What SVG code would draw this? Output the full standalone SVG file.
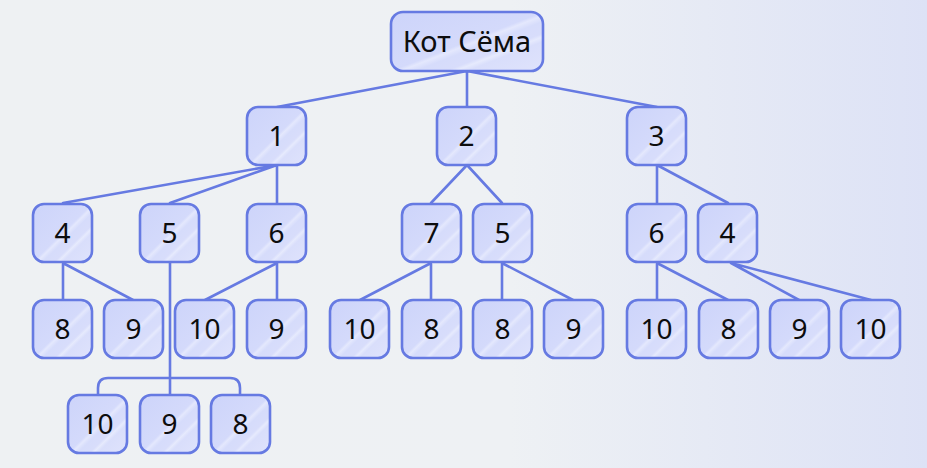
<svg xmlns="http://www.w3.org/2000/svg" width="927" height="468" viewBox="0 0 927 468">
<defs>
<linearGradient id="bg" x1="0" y1="0" x2="1" y2="0">
<stop offset="0" stop-color="#eef1f3"/>
<stop offset="0.55" stop-color="#eef1f4"/>
<stop offset="1" stop-color="#dde2f6"/>
</linearGradient>
<linearGradient id="nf" x1="0" y1="0" x2="1" y2="1">
<stop offset="0" stop-color="#cdd4fa"/>
<stop offset="0.5" stop-color="#d4dafb"/>
<stop offset="0.53" stop-color="#e4e8fd"/>
<stop offset="0.58" stop-color="#d6dcfb"/>
<stop offset="0.68" stop-color="#d8ddfb"/>
<stop offset="0.71" stop-color="#e6eafd"/>
<stop offset="0.75" stop-color="#d9defb"/>
<stop offset="1" stop-color="#dfe3fc"/>
</linearGradient>
<style>
.n rect{fill:url(#nf);stroke:#667ae2;stroke-width:2.6}
.n text{font-family:"Noto Sans","Open Sans","DejaVu Sans",sans-serif;font-size:28px;fill:#0d0d0d;text-anchor:middle}
#edges path{fill:none;stroke:#667ae2;stroke-width:2.6;stroke-linecap:round}
</style>
</defs>
<rect width="927" height="468" fill="url(#bg)"/>
<g id="edges">
<path d="M467 71L277 107M467 71V107M467 71L657 107"/>
<path d="M277 165L63 203M277 165L170 203M277 165V203"/>
<path d="M63 263V300M63 263L133 300"/>
<path d="M277 263L205 300M277 263V300"/>
<path d="M170 263V395M108 378H230M98 395V388Q98 378 108 378M240 395V388Q240 378 230 378"/>
<path d="M467 165L431 203M467 165L502 203"/>
<path d="M431 263L360 300M431 263V300"/>
<path d="M502 263V300M502 263L573 300"/>
<path d="M657 165V203M657 165L728 203"/>
<path d="M657 263V300M657 263L728 300"/>
<path d="M731 263L799 300M731 263L871 300"/>
</g>
<g id="root" class="n"><rect x="391" y="12" width="152" height="59" rx="12"/><text x="467" y="52" style="font-size:29px">Кот Сёма</text></g>
<g id="n1" class="n"><rect x="247" y="107" width="59" height="58" rx="11"/><text x="276.5" y="146">1</text></g>
<g id="n2" class="n"><rect x="437" y="107" width="59" height="58" rx="11"/><text x="466.5" y="146">2</text></g>
<g id="n3" class="n"><rect x="627" y="107" width="59" height="58" rx="11"/><text x="656.5" y="146">3</text></g>
<g id="n1-4" class="n"><rect x="33" y="204" width="59" height="58" rx="11"/><text x="62.5" y="243">4</text></g>
<g id="n1-5" class="n"><rect x="140" y="204" width="59" height="58" rx="11"/><text x="169.5" y="243">5</text></g>
<g id="n1-6" class="n"><rect x="247" y="204" width="59" height="58" rx="11"/><text x="276.5" y="243">6</text></g>
<g id="n2-7" class="n"><rect x="402" y="204" width="59" height="58" rx="11"/><text x="431.5" y="243">7</text></g>
<g id="n2-5" class="n"><rect x="473" y="204" width="59" height="58" rx="11"/><text x="502.5" y="243">5</text></g>
<g id="n3-6" class="n"><rect x="627" y="204" width="59" height="58" rx="11"/><text x="656.5" y="243">6</text></g>
<g id="n3-4" class="n"><rect x="698" y="204" width="59" height="58" rx="11"/><text x="727.5" y="243">4</text></g>
<g id="n4-8" class="n"><rect x="33" y="300" width="59" height="58" rx="11"/><text x="62.5" y="339">8</text></g>
<g id="n4-9" class="n"><rect x="104" y="300" width="59" height="58" rx="11"/><text x="133.5" y="339">9</text></g>
<g id="n6-10" class="n"><rect x="175" y="300" width="59" height="58" rx="11"/><text x="204.5" y="339">10</text></g>
<g id="n6-9" class="n"><rect x="247" y="300" width="59" height="58" rx="11"/><text x="276.5" y="339">9</text></g>
<g id="n7-10" class="n"><rect x="330" y="300" width="59" height="58" rx="11"/><text x="359.5" y="339">10</text></g>
<g id="n7-8" class="n"><rect x="402" y="300" width="59" height="58" rx="11"/><text x="431.5" y="339">8</text></g>
<g id="n25-8" class="n"><rect x="473" y="300" width="59" height="58" rx="11"/><text x="502.5" y="339">8</text></g>
<g id="n25-9" class="n"><rect x="544" y="300" width="59" height="58" rx="11"/><text x="573.5" y="339">9</text></g>
<g id="n36-10" class="n"><rect x="627" y="300" width="59" height="58" rx="11"/><text x="656.5" y="339">10</text></g>
<g id="n36-8" class="n"><rect x="699" y="300" width="59" height="58" rx="11"/><text x="728.5" y="339">8</text></g>
<g id="n34-9" class="n"><rect x="770" y="300" width="59" height="58" rx="11"/><text x="799.5" y="339">9</text></g>
<g id="n34-10" class="n"><rect x="841" y="300" width="59" height="58" rx="11"/><text x="870.5" y="339">10</text></g>
<g id="n5-10" class="n"><rect x="68" y="395" width="59" height="58" rx="11"/><text x="97.5" y="434">10</text></g>
<g id="n5-9" class="n"><rect x="140" y="395" width="59" height="58" rx="11"/><text x="169.5" y="434">9</text></g>
<g id="n5-8" class="n"><rect x="211" y="395" width="59" height="58" rx="11"/><text x="240.5" y="434">8</text></g>
</svg>
